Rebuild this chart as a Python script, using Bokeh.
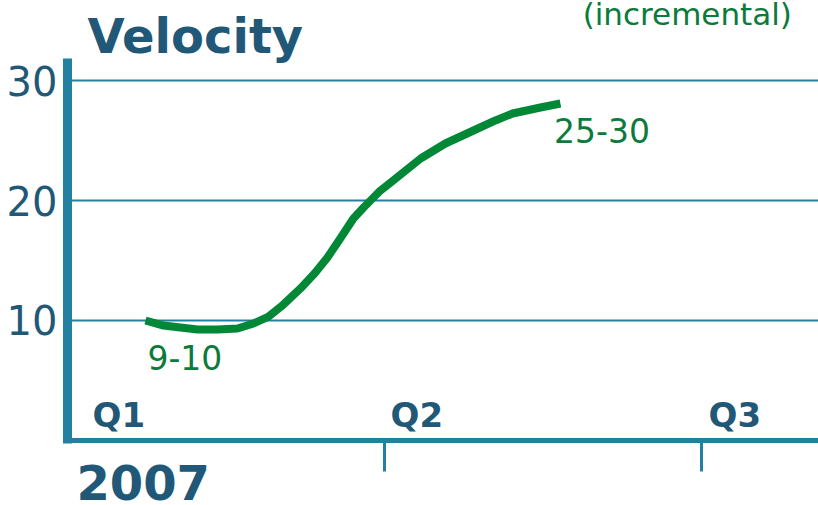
from bokeh.plotting import figure
from bokeh.models import Range1d, FixedTicker, Label, ColumnDataSource, LinearAxis
from bokeh.core.properties import value
from bokeh.embed import file_html
from bokeh.resources import INLINE

# ---- data ----
curve_x = [0.246, 0.303, 0.356, 0.410, 0.473, 0.536, 0.587, 0.634, 0.681, 0.735,
           0.782, 0.820, 0.852, 0.877, 0.902, 0.934, 0.956, 0.987, 1.028, 1.114,
           1.192, 1.274, 1.350, 1.404, 1.492, 1.555]
curve_y = [10.00, 9.58, 9.42, 9.25, 9.25, 9.33, 9.75, 10.33, 11.33, 12.67,
           14.00, 15.25, 16.50, 17.50, 18.50, 19.42, 20.00, 20.83, 21.67, 23.50,
           24.75, 25.75, 26.67, 27.25, 27.75, 28.08]
y_ticks = [10, 20, 30]
quarter_ticks = [1, 2]
quarter_labels = ["Q1", "Q2", "Q3"]
quarter_label_x = [0.079, 1.019, 2.022]
quarter_label_y = [1.08, 1.08, 1.08]
title_text = "Velocity"
subtitle_text = "(incremental)"
year_text = "2007"
start_label = "9-10"
end_label = "25-30"

X_MIN, X_MAX = -0.2114, 2.3691
Y_MIN, Y_MAX = -5.417, 36.667
Y_AXIS_TOP = 31.83

TEAL = "#2380a0"
NAVY = "#215878"
GREEN = "#008837"
GREEN_TXT = "#0b7a3b"
FONT = "DejaVu Sans"
BASE_SHIFT = 0.37  # baseline correction, fraction of font size

p = figure(width=818, height=505, output_backend="svg", toolbar_location=None,
           x_range=Range1d(X_MIN, X_MAX), y_range=Range1d(Y_MIN, Y_MAX),
           x_axis_location=None, y_axis_location=None,
           min_border=0, outline_line_color=None,
           background_fill_color="white", border_fill_color="white")
p.grid.visible = False

# horizontal grid lines from the tick list
p.segment(x0=[0] * len(y_ticks), y0=y_ticks, x1=[X_MAX] * len(y_ticks), y1=y_ticks,
          line_color=TEAL, line_width=2)

# y axis
yax = LinearAxis(fixed_location=0, ticker=FixedTicker(ticks=y_ticks),
                 bounds=(-0.25, Y_AXIS_TOP))
yax.axis_line_color = TEAL
yax.axis_line_width = 9
yax.major_tick_line_color = None
yax.major_tick_in = 0
yax.major_tick_out = 0
yax.minor_tick_line_color = None
yax.major_label_text_font = FONT
yax.major_label_text_font_size = "40px"
yax.major_label_text_color = NAVY
yax.major_label_standoff = 10
p.add_layout(yax, "left")

# x axis
xax = LinearAxis(fixed_location=0, ticker=FixedTicker(ticks=quarter_ticks),
                 bounds=(-0.013, X_MAX))
xax.axis_line_color = TEAL
xax.axis_line_width = 5
xax.major_tick_line_color = TEAL
xax.major_tick_line_width = 3
xax.major_tick_out = 31
xax.major_tick_in = 0
xax.minor_tick_line_color = None
xax.major_label_overrides = {t: "" for t in quarter_ticks}
xax.major_label_text_font_size = "1px"
p.add_layout(xax, "below")

# curve
p.line(curve_x, curve_y, line_color=GREEN, line_width=8, line_cap="butt", line_join="round")

# quarter labels
qsrc = ColumnDataSource(dict(x=quarter_label_x, y=quarter_label_y, t=quarter_labels))
p.text(x="x", y="y", text="t", source=qsrc, text_font=value(FONT), text_font_style="bold",
       text_font_size="34px", text_color=NAVY, text_baseline="alphabetic", text_align="left",
       y_offset=-round(BASE_SHIFT * 34))

def lab(x, y, text, size, color, bold=False):
    p.add_layout(Label(x=x, y=y, text=text, text_font=FONT, text_font_size=f"{size}px",
                       text_color=color, text_font_style="bold" if bold else "normal",
                       text_baseline="alphabetic", text_align="left",
                       y_offset=round(BASE_SHIFT * size)))

lab(curve_x[0] + 0.006, 5.95, start_label, 33, GREEN_TXT)
lab(curve_x[-1] - 0.02, 24.83, end_label, 33, GREEN_TXT)
lab(0.063, 32.25, title_text, 48, NAVY, bold=True)
lab(1.625, 34.6, subtitle_text, 31, GREEN_TXT)
lab(0.028, -5.0, year_text, 48, NAVY, bold=True)

open("out.html", "w").write(file_html(p, INLINE))
